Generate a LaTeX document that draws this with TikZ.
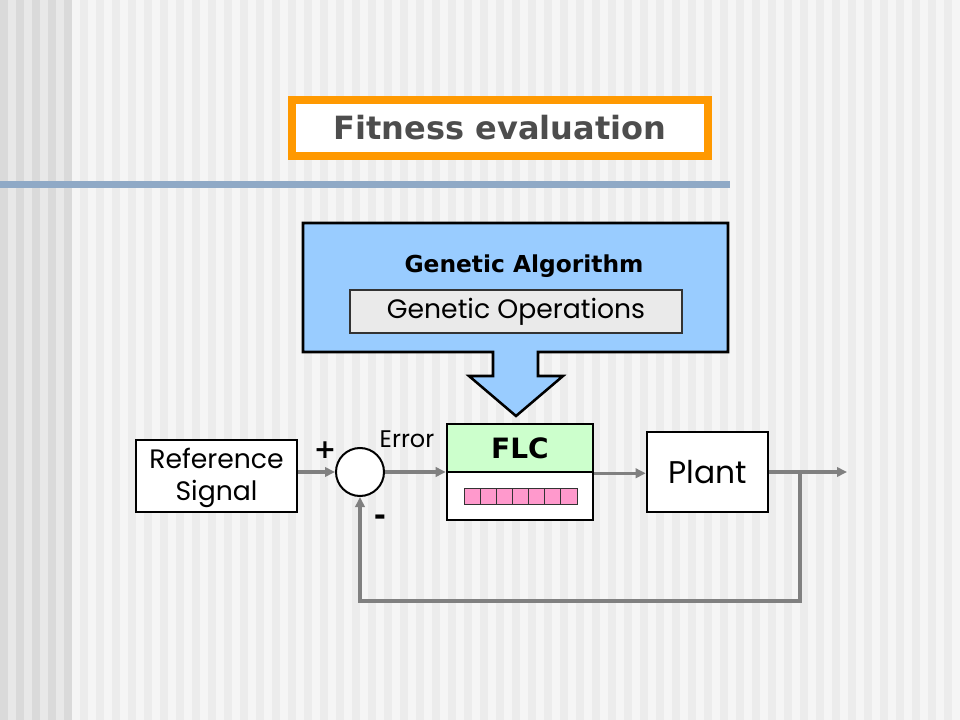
\documentclass[tikz,border=0pt]{standalone}
\usepackage{fontspec}
\setmainfont{Poppins}
\newfontfamily\verd{DejaVu Sans}
\usetikzlibrary{arrows.meta}
\definecolor{orangeb}{HTML}{FF9900}
\definecolor{titlegray}{HTML}{4D4D4D}
\definecolor{gablue}{HTML}{99CCFF}
\definecolor{opsgray}{HTML}{EAEAEA}
\definecolor{flcgreen}{HTML}{CCFFCC}
\definecolor{cellpink}{HTML}{FF99CC}
\definecolor{linegray}{HTML}{808080}
\definecolor{bandblue}{HTML}{8FA9C6}
\definecolor{bgA}{HTML}{F5F5F5}
\definecolor{bgB}{HTML}{ECECEC}
\definecolor{bgC}{HTML}{E8E8E8}
\definecolor{bgD}{HTML}{DADADA}
\tikzset{
  box/.style={draw=black, line width=1.9pt, fill=white, inner sep=0pt},
  cell/.style={draw=black!80, line width=0.6pt, fill=cellpink, minimum width=12.1pt, minimum height=12pt, inner sep=0pt},
  conn/.style={draw=linegray, line width=2.6pt, -{Triangle[length=7.5pt,width=7pt]}},
}
\begin{document}
\begin{tikzpicture}[x=0.75pt,y=-0.75pt]
\useasboundingbox (0,0) rectangle (960,720);
% background stripes
\fill[bgA] (0,0) rectangle (960,720);
\fill[bgC] (0,0) rectangle (72,720);
\foreach \i in {0,...,4} \fill[bgD] ({16*\i},0) rectangle ({16*\i+8},720);
\foreach \i in {0,...,54} \fill[bgB] ({80+16*\i},0) rectangle ({88+16*\i},720);
% band
\fill[bandblue] (0,181) rectangle (730,188);
% title
\node[draw=orangeb, line width=6pt, fill=white, minimum width=312pt, minimum height=42pt, text=titlegray, font=\verd\bfseries\fontsize{24}{28}\selectfont] (title) at (500,128) {Fitness evaluation};
% GA box with block arrow
\coordinate (gaTL) at (303,223);
\coordinate (gaBR) at (728,352);
\draw[fill=gablue, line width=1.9pt, line join=miter]
  (gaTL) -- (gaTL -| gaBR) -- (gaBR) -- (538,352) -- (538,376) -- (563,376) -- (516,416)
  -- (469,376) -- (493,376) -- (493,352) -- (gaTL |- gaBR) -- cycle;
\node[font=\verd\bfseries\fontsize{17.5}{20}\selectfont] (ga) at (524,266) {Genetic Algorithm};
\node[draw=black!80, fill=opsgray, line width=0.8pt, minimum width=249pt, minimum height=32.25pt, inner sep=0pt, font=\fontsize{20}{24}\selectfont] (ops) at (516,311.5) {Genetic Operations};
% blocks
\node[box, minimum width=120.75pt, minimum height=54pt] (ref) at (216.5,476) {};
\node[align=center, inner sep=0pt, font=\fontsize{20}{23.5}\selectfont] (reftext) at (216.5,478) {Reference\\Signal};
\node[circle, draw=black, line width=1.5pt, fill=white, minimum size=36pt, inner sep=0pt] (sum) at (360,472) {};
\node[box, fill=flcgreen, minimum width=109.5pt, minimum height=36pt, font=\verd\bfseries\fontsize{21}{24}\selectfont] (flc) at (520,448) {FLC};
\node[box, minimum width=109.5pt, minimum height=36pt] (flcb) at (520,496) {};
\foreach \i in {0,...,6} \node[cell] (c\i) at ({464+16.14*(\i+0.5)},496) {};
\node[box, minimum width=90.75pt, minimum height=60pt, font=\fontsize{23.5}{28}\selectfont] (plant) at (707.5,472) {Plant};
% labels
\node[font=\verd\bfseries\fontsize{20}{24}\selectfont] (plus) at (325,450) {+};
\node[font=\verd\bfseries\fontsize{22}{24}\selectfont] (minus) at (380,520) {-};
\node[font=\fontsize{18}{20}\selectfont] (err) at (407,439) {Error};
% connectors
\coordinate (out) at (847,472);
\coordinate (br) at (800,472);
\coordinate (fbr) at (800,601);
\draw[conn] (ref.east |- sum) -- (sum.west);
\draw[conn] (sum.east) -- (sum.east -| flc.west);
\draw[conn] (flc.south east) -- (flc.south east -| plant.west);
\draw[conn] (plant.east) -- (out);
\draw[conn] (br) -- (fbr) -- (fbr -| sum) -- (sum.south);
\end{tikzpicture}
\end{document}
